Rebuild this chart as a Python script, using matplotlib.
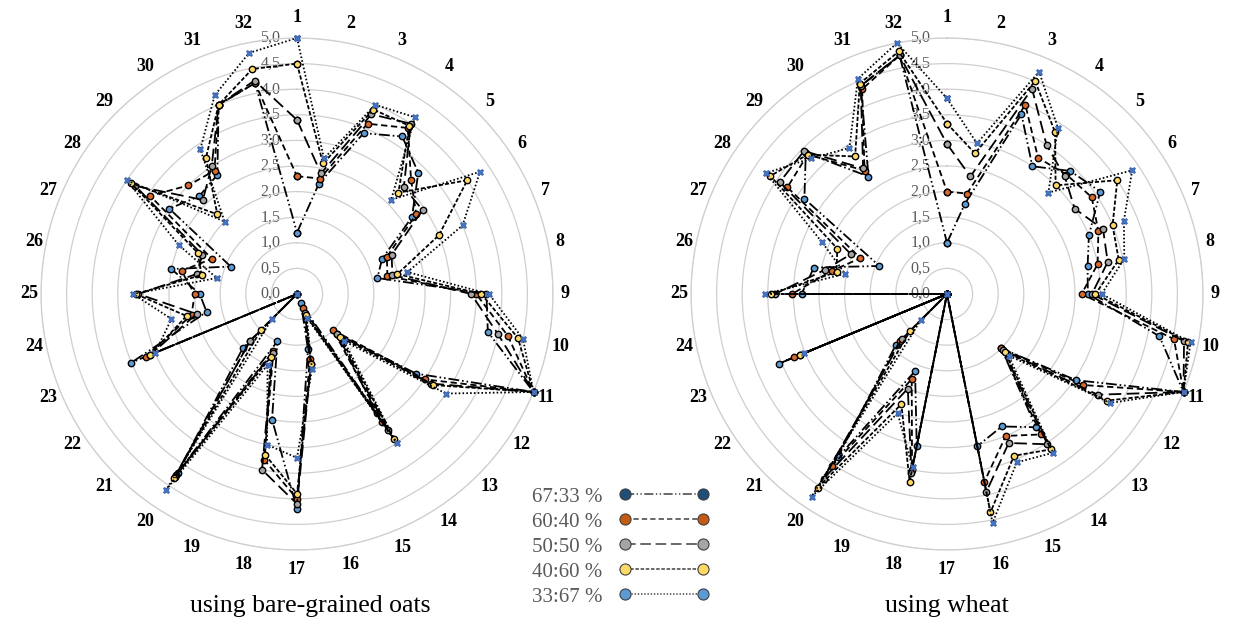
import numpy as np
import matplotlib.pyplot as plt
from matplotlib.lines import Line2D

plt.rcParams['font.family'] = ['Liberation Serif', 'DejaVu Serif']

# categories around the radar and the radial scale
categories = [str(i) for i in range(1, 33)]
r_ticks = [0.0, 0.5, 1.0, 1.5, 2.0, 2.5, 3.0, 3.5, 4.0, 4.5, 5.0]
r_tick_labels = ['0,0', '0,5', '1,0', '1,5', '2,0', '2,5', '3,0', '3,5', '4,0', '4,5', '5,0']
series_names = ['67:33 %', '60:40 %', '50:50 %', '40:60 %', '33:67 %']

# using bare-grained oats
oats_67_33 = [1.2, 2.2, 3.4, 3.7, 3.35, 2.7, 1.8, 1.6, 3.7, 3.8, 5.0, 2.8, 1.1, 2.8, 0.2, 1.1,
              4.2, 2.5, 1.0, 4.2, 1.5, 0.0, 3.5, 1.8, 1.9, 2.5, 1.4, 3.0, 2.7, 2.8, 4.0, 4.2]
oats_60_40 = [2.3, 2.3, 3.6, 3.9, 3.15, 2.8, 1.9, 1.8, 3.5, 4.2, 5.0, 3.0, 1.0, 3.0, 0.3, 1.3,
              4.0, 3.3, 1.2, 4.25, 1.3, 0.0, 3.2, 2.1, 2.0, 2.3, 1.8, 3.45, 3.0, 2.9, 4.0, 4.2]
oats_50_50 = [3.4, 2.4, 3.8, 4.0, 2.95, 2.95, 2.0, 1.9, 3.4, 4.0, 5.0, 3.15, 1.1, 3.2, 0.4, 1.4,
              4.1, 3.5, 1.25, 4.3, 1.3, 0.0, 3.1, 2.0, 3.1, 2.0, 2.0, 3.8, 2.6, 3.0, 4.0, 4.25]
oats_40_60 = [4.5, 2.6, 3.9, 3.95, 2.8, 4.0, 3.0, 2.0, 3.6, 4.4, 5.0, 3.2, 1.2, 3.4, 0.45, 1.4,
              3.9, 3.2, 1.33, 4.33, 1.0, 0.0, 3.1, 2.2, 3.15, 1.9, 2.1, 3.9, 2.2, 3.2, 4.0, 4.48]
oats_33_67 = [5.0, 2.7, 4.0, 4.15, 2.6, 4.3, 3.5, 2.2, 3.75, 4.5, 5.0, 3.5, 1.3, 3.5, 0.5, 1.5,
              3.2, 3.0, 1.5, 4.6, 0.7, 0.0, 3.0, 2.5, 3.2, 1.6, 2.5, 4.0, 2.0, 3.4, 4.2, 4.8]

# using wheat
wheat_67_33 = [1.0, 1.8, 3.8, 3.0, 3.4, 3.6, 3.0, 2.8, 2.75, 4.23, 5.0, 3.03, 1.5, 3.13, 2.8, 3.03,
               0.0, 3.03, 1.63, 3.84, 1.42, 0.0, 3.55, 0.0, 2.84, 2.65, 1.43, 3.35, 3.9, 2.76, 4.4, 4.75]
wheat_60_40 = [2.0, 2.0, 4.0, 3.2, 3.3, 3.4, 3.2, 3.0, 2.63, 4.52, 5.0, 3.2, 1.5, 3.3, 3.0, 3.74,
               0.0, 3.5, 1.8, 4.04, 1.3, 0.0, 3.24, 0.0, 3.03, 2.3, 1.83, 3.75, 3.85, 2.9, 4.33, 4.75]
wheat_50_50 = [2.93, 2.34, 4.34, 3.5, 3.25, 3.0, 3.3, 3.2, 2.83, 4.72, 5.0, 3.54, 1.55, 3.53, 3.15, 3.94,
               0.0, 3.56, 2.0, 4.34, 1.25, 0.0, 3.1, 0.0, 3.36, 2.43, 2.03, 3.93, 3.95, 2.95, 4.4, 4.75]
wheat_40_60 = [3.33, 2.8, 4.5, 3.8, 3.0, 4.0, 3.5, 3.42, 2.9, 4.8, 5.0, 3.75, 1.6, 3.65, 3.42, 4.35,
               0.0, 3.74, 2.33, 4.55, 1.02, 0.0, 3.1, 0.0, 3.44, 2.2, 2.32, 4.15, 3.85, 3.23, 4.45, 4.83]
wheat_33_67 = [3.82, 3.0, 4.7, 3.9, 2.8, 4.35, 3.74, 3.53, 3.02, 4.85, 5.0, 3.83, 1.7, 3.73, 3.56, 4.56,
               0.0, 3.45, 2.52, 4.76, 0.73, 0.0, 3.03, 0.0, 3.55, 2.03, 2.64, 4.25, 3.75, 3.43, 4.55, 5.0]

oats = [oats_67_33, oats_60_40, oats_50_50, oats_40_60, oats_33_67]
wheat = [wheat_67_33, wheat_60_40, wheat_50_50, wheat_40_60, wheat_33_67]

# line / marker styles per series
dashes = [(0, (6, 1.6, 0.9, 1.6, 0.9, 1.6)), (0, (3.5, 2)), (0, (7, 3)), (0, (2.3, 1.1)), (0, (0.9, 1.2))]
plot_colors = ['#5b9bd5', '#d9692a', '#a5a5a5', '#ffd966', '#4472c4']
legend_colors = ['#1f4e79', '#c55a11', '#a5a5a5', '#ffd966', '#5b9bd5']
grid_col = '#cfcfcf'

fig = plt.figure(figsize=(12.36, 6.22), dpi=100)


def radar(ax, data):
    n = len(categories)
    theta = np.linspace(0, 2 * np.pi, n, endpoint=False)
    ax.set_theta_zero_location('N')
    ax.set_theta_direction(-1)
    ax.set_ylim(0, 5)
    ax.set_yticks(r_ticks[1:])
    ax.set_yticklabels([])
    ax.set_xticks([])
    ax.yaxis.grid(True, color=grid_col, lw=0.9)
    ax.xaxis.grid(False)
    ax.spines['polar'].set_color(grid_col)
    ax.spines['polar'].set_linewidth(0.9)
    ax.patch.set_alpha(0)

    for v, lab in zip(r_ticks, r_tick_labels):
        ax.annotate(lab, xy=(0, v), xytext=(-12, 0), textcoords='offset points',
                    ha='right', va='center', fontsize=11.5, color='#595959', zorder=1)

    for t, c in zip(theta, categories):
        rl = (268 + 8 * np.cos(t) ** 2) / 51.2
        ax.text(t, rl, c, ha='center', va='center', fontsize=13,
                fontweight='bold', clip_on=False)

    th = np.append(theta, theta[0])
    for i in range(len(data)):
        vals = np.append(data[i], data[i][0])
        if i == 4:
            ax.plot(th, vals, color='black', lw=1.3, linestyle=dashes[i], zorder=3)
            ax.plot(th, vals, linestyle='none', marker='X', ms=5,
                    mfc=plot_colors[i], mec='#2f5597', mew=0.4, zorder=4, clip_on=False)
        else:
            ax.plot(th, vals, color='black', lw=1.3, linestyle=dashes[i],
                    marker='o', ms=4.6, mfc=plot_colors[i], mec='black', mew=1.0,
                    zorder=3, clip_on=False)


ax1 = fig.add_axes([0.03317, 0.11576, 0.41424, 0.82315], projection='polar')
radar(ax1, oats)
ax2 = fig.add_axes([0.55906, 0.11576, 0.41424, 0.82315], projection='polar')
radar(ax2, wheat)

fig.text(310 / 1236, 1 - 606 / 622, 'using bare-grained oats', ha='center', va='center', fontsize=18.5)
fig.text(947 / 1236, 1 - 606 / 622, 'using wheat', ha='center', va='center', fontsize=18.5)

handles = [Line2D([0], [0], color='#404040', lw=1.1, linestyle=dashes[i], marker='o', ms=8,
                  mfc=legend_colors[i], mec='#404040', mew=0.8) for i in range(5)]
fig.legend(handles, series_names, loc='upper left', bbox_to_anchor=(532 / 1236, 1 - 487 / 622),
           frameon=False, markerfirst=False, numpoints=2, handlelength=4.3, handletextpad=0.8,
           labelspacing=0.26, fontsize=15, labelcolor='#595959', borderpad=0, borderaxespad=0)

fig.savefig('out.png', dpi=100)
